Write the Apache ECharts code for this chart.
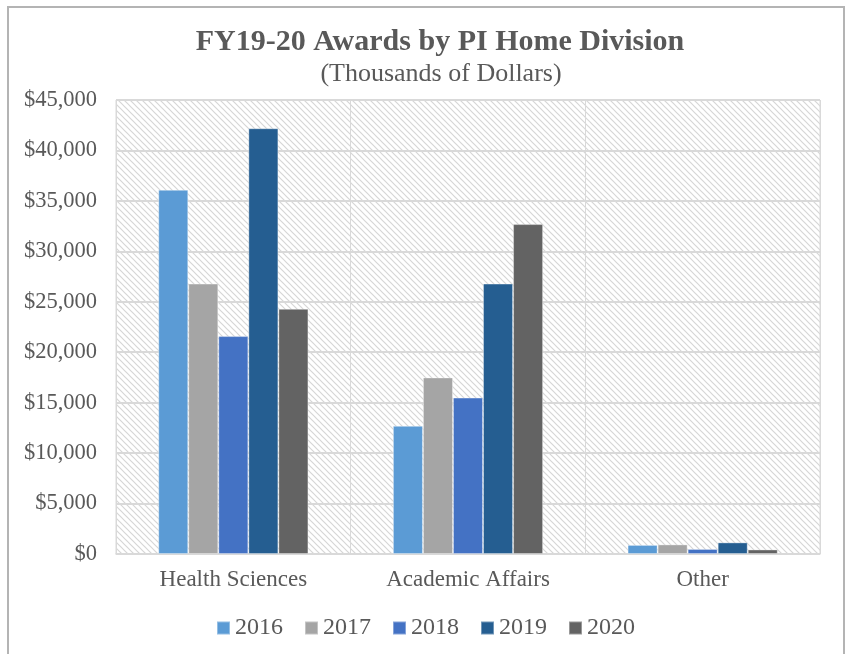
<!DOCTYPE html>
<html>
<head>
<meta charset="utf-8">
<script src="https://cdn.jsdelivr.net/npm/echarts@6/dist/echarts.min.js"></script>
<style>
html,body{margin:0;padding:0;background:#fff;}
#main{width:851px;height:654px;}
</style>
</head>
<body>
<div id="main"></div>
<script>
var categories=['Health Sciences','Academic Affairs','Other'];
var years=['2016','2017','2018','2019','2020'];
var v2016=[36100,12700,900];
var v2017=[26800,17500,950];
var v2018=[21600,15500,500];
var v2019=[42200,26800,1150];
var v2020=[24300,32700,450];
var yTicks=[0,5000,10000,15000,20000,25000,30000,35000,40000,45000];

var colors=['#5B9BD5','#A5A5A5','#4472C4','#255E91','#636363'];
var seriesData=[v2016,v2017,v2018,v2019,v2020];
var font='"Liberation Serif", "Times New Roman", serif';

// diagonal hatch tile for plot background
var tile=document.createElement('canvas');
tile.width=6;tile.height=6;
var c=tile.getContext('2d');
c.fillStyle='#fff';c.fillRect(0,0,6,6);
c.strokeStyle='#d6d6d6';c.lineWidth=1.2;
c.beginPath();c.moveTo(-1,-1);c.lineTo(7,7);c.moveTo(-1,5);c.lineTo(1,7);c.moveTo(5,-1);c.lineTo(7,1);c.stroke();

var chart=echarts.init(document.getElementById('main'));
var option={
  backgroundColor:'#fff',
  color:colors,
  title:[{
    text:'FY19-20 Awards by PI Home Division',
    left:435,top:22,textAlign:'center',
    textStyle:{fontFamily:font,fontWeight:'bold',fontSize:30,color:'#595959'}
  },{
    text:'(Thousands of Dollars)',
    left:436,top:56,textAlign:'center',
    textStyle:{fontFamily:font,fontWeight:'normal',fontSize:26,color:'#595959'}
  }],
  graphic:[{
    type:'rect',
    shape:{x:8,y:7,width:836,height:660},
    style:{fill:null,stroke:'#b4b4b4',lineWidth:2}
  }],
  legend:{
    data:years,
    bottom:9,left:'center',
    icon:'rect',itemWidth:13,itemHeight:13,itemGap:21,
    textStyle:{fontFamily:font,fontSize:24,color:'#595959'}
  },
  grid:{
    left:116,right:31,top:100,bottom:100,
    show:true,
    backgroundColor:{image:tile,repeat:'repeat'},
    borderColor:'#d9d9d9',borderWidth:1
  },
  xAxis:{
    type:'category',
    data:categories,
    axisTick:{show:false},
    axisLine:{lineStyle:{color:'#d9d9d9',width:1.5}},
    splitLine:{show:true,lineStyle:{color:'#d9d9d9',width:1}},
    axisLabel:{fontFamily:font,fontSize:23,color:'#595959',margin:14}
  },
  yAxis:{
    type:'value',
    min:yTicks[0],max:yTicks[yTicks.length-1],interval:5000,
    axisLine:{show:false},
    axisTick:{show:false},
    splitLine:{lineStyle:{color:'#d9d9d9',width:2}},
    axisLabel:{
      fontFamily:font,fontSize:22.5,color:'#595959',margin:19,
      formatter:function(v){return '$'+v.toLocaleString('en-US');}
    }
  },
  series:years.map(function(y,i){
    return {
      name:y,type:'bar',
      data:seriesData[i],
      barGap:'0%',barCategoryGap:'36%',
      itemStyle:{borderColor:'rgba(255,255,255,0.35)',borderWidth:1}
    };
  })
};
chart.setOption(option);
</script>
</body>
</html>
